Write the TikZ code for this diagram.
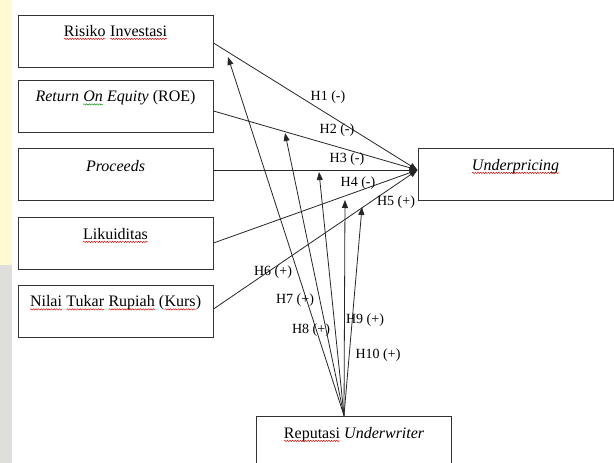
\documentclass[tikz,border=0pt]{standalone}
\usepackage{fontspec}
\setmainfont{Liberation Serif}
\usetikzlibrary{arrows.meta,decorations.pathmorphing}
\definecolor{stripY}{HTML}{FFFAD2}
\definecolor{stripG}{HTML}{DEDEDA}
\newcommand\mywave[2]{\tikz[baseline=(sqw.base)]{\node[inner sep=0pt, outer sep=0pt] (sqw) {#2};
  \draw[#1, line width=0.45pt, decorate, decoration={snake, amplitude=0.7pt, segment length=2.6pt}]
   ([yshift=-2.6pt]sqw.base west) -- ([yshift=-2.6pt]sqw.base east);}}
\newcommand\rw[1]{\mywave{red!85!black}{#1}}
\newcommand\gw[1]{\mywave{green!55!black}{#1}}
\tikzset{
  x=1pt, y=-1pt,
  box/.style={draw=black!80, line width=1pt, minimum width=195pt, minimum height=52pt, inner sep=0pt},
  boxtxt/.style={font=\fontsize{16}{19}\selectfont, inner sep=0pt, anchor=center},
  lbl/.style={font=\fontsize{14}{16}\selectfont, inner sep=0pt, anchor=center},
  link/.style={line width=0.8pt, black!85, -{Triangle[length=8pt,width=6pt]}},
}
\begin{document}
\begin{tikzpicture}
\clip (0,0) rectangle (614,463);
\fill[white] (0,0) rectangle (614,463);
\fill[stripY] (0,0) rectangle (12,265);
\fill[stripG] (0,265) rectangle (12,463);

% boxes
\node[box] (r1) at (115.5,41) {};
\node[box] (r2) at (115.5,106.5) {};
\node[box] (r3) at (115.5,174) {};
\node[box] (r4) at (115.5,243) {};
\node[box] (r5) at (115.5,311.5) {};
\node[box] (up) at (515.5,174) {};
\node[box, minimum height=70pt] (rep) at (354,451) {};

\node[boxtxt] (t1) at ([yshift=-18pt]r1.north) {\rw{Risiko} \rw{Investasi}};
\node[boxtxt] (t2) at ([yshift=-18pt]r2.north) {\textit{Return \gw{On} Equity} (ROE)};
\node[boxtxt] (t3) at ([yshift=-19pt]r3.north) {\textit{Proceeds}};
\node[boxtxt] (t4) at ([yshift=-19pt]r4.north) {\rw{Likuiditas}};
\node[boxtxt] (t5) at ([yshift=-18pt]r5.north) {\rw{Nilai} \rw{Tukar} \rw{Rupiah} (\rw{Kurs})};
\node[boxtxt] (tu) at ([yshift=-19pt]up.north) {\rw{\textit{Underpricing}}};
\node[boxtxt] (tr) at ([yshift=-19pt]rep.north) {\rw{Reputasi} \textit{Underwriter}};

\coordinate (tip) at ([yshift=4pt]up.west);
\coordinate (src) at ([xshift=-10pt]rep.north);

% arrows to Underpricing
\draw[link] ([yshift=-2pt]r1.east) -- (tip);
\draw[link] ([yshift=-4.5pt]r2.east) -- (tip);
\draw[link] ([yshift=4pt]r3.east) -- (tip);
\draw[link] (r4.east) -- (tip);
\draw[link] ([yshift=2.5pt]r5.east) -- (tip);

% arrows from Reputasi Underwriter
\coordinate (m1) at (228,57);
\coordinate (m2) at (285,133);
\coordinate (m3) at (319,172);
\coordinate (m4) at (345,200);
\coordinate (m5) at (362,207);
\draw[link] (src) -- (m1);
\draw[link] (src) -- (m2);
\draw[link] (src) -- (m3);
\draw[link] (src) -- (m4);
\draw[link] (src) -- (m5);

% labels
\node[lbl] (h1) at (328,97) {H1 (-)};
\node[lbl] (h2) at (337,130) {H2 (-)};
\node[lbl] (h3) at (347,159) {H3 (-)};
\node[lbl] (h4) at (358,183) {H4 (-)};
\node[lbl] (h5) at (396,202) {H5 (+)};
\node[lbl] (h6) at (273,272) {H6 (+)};
\node[lbl] (h7) at (295,300) {H7 (+)};
\node[lbl] (h8) at (311,330) {H8 (+)};
\node[lbl] (h9) at (365,320) {H9 (+)};
\node[lbl] (h10) at (378,355) {H10 (+)};
\end{tikzpicture}
\end{document}
